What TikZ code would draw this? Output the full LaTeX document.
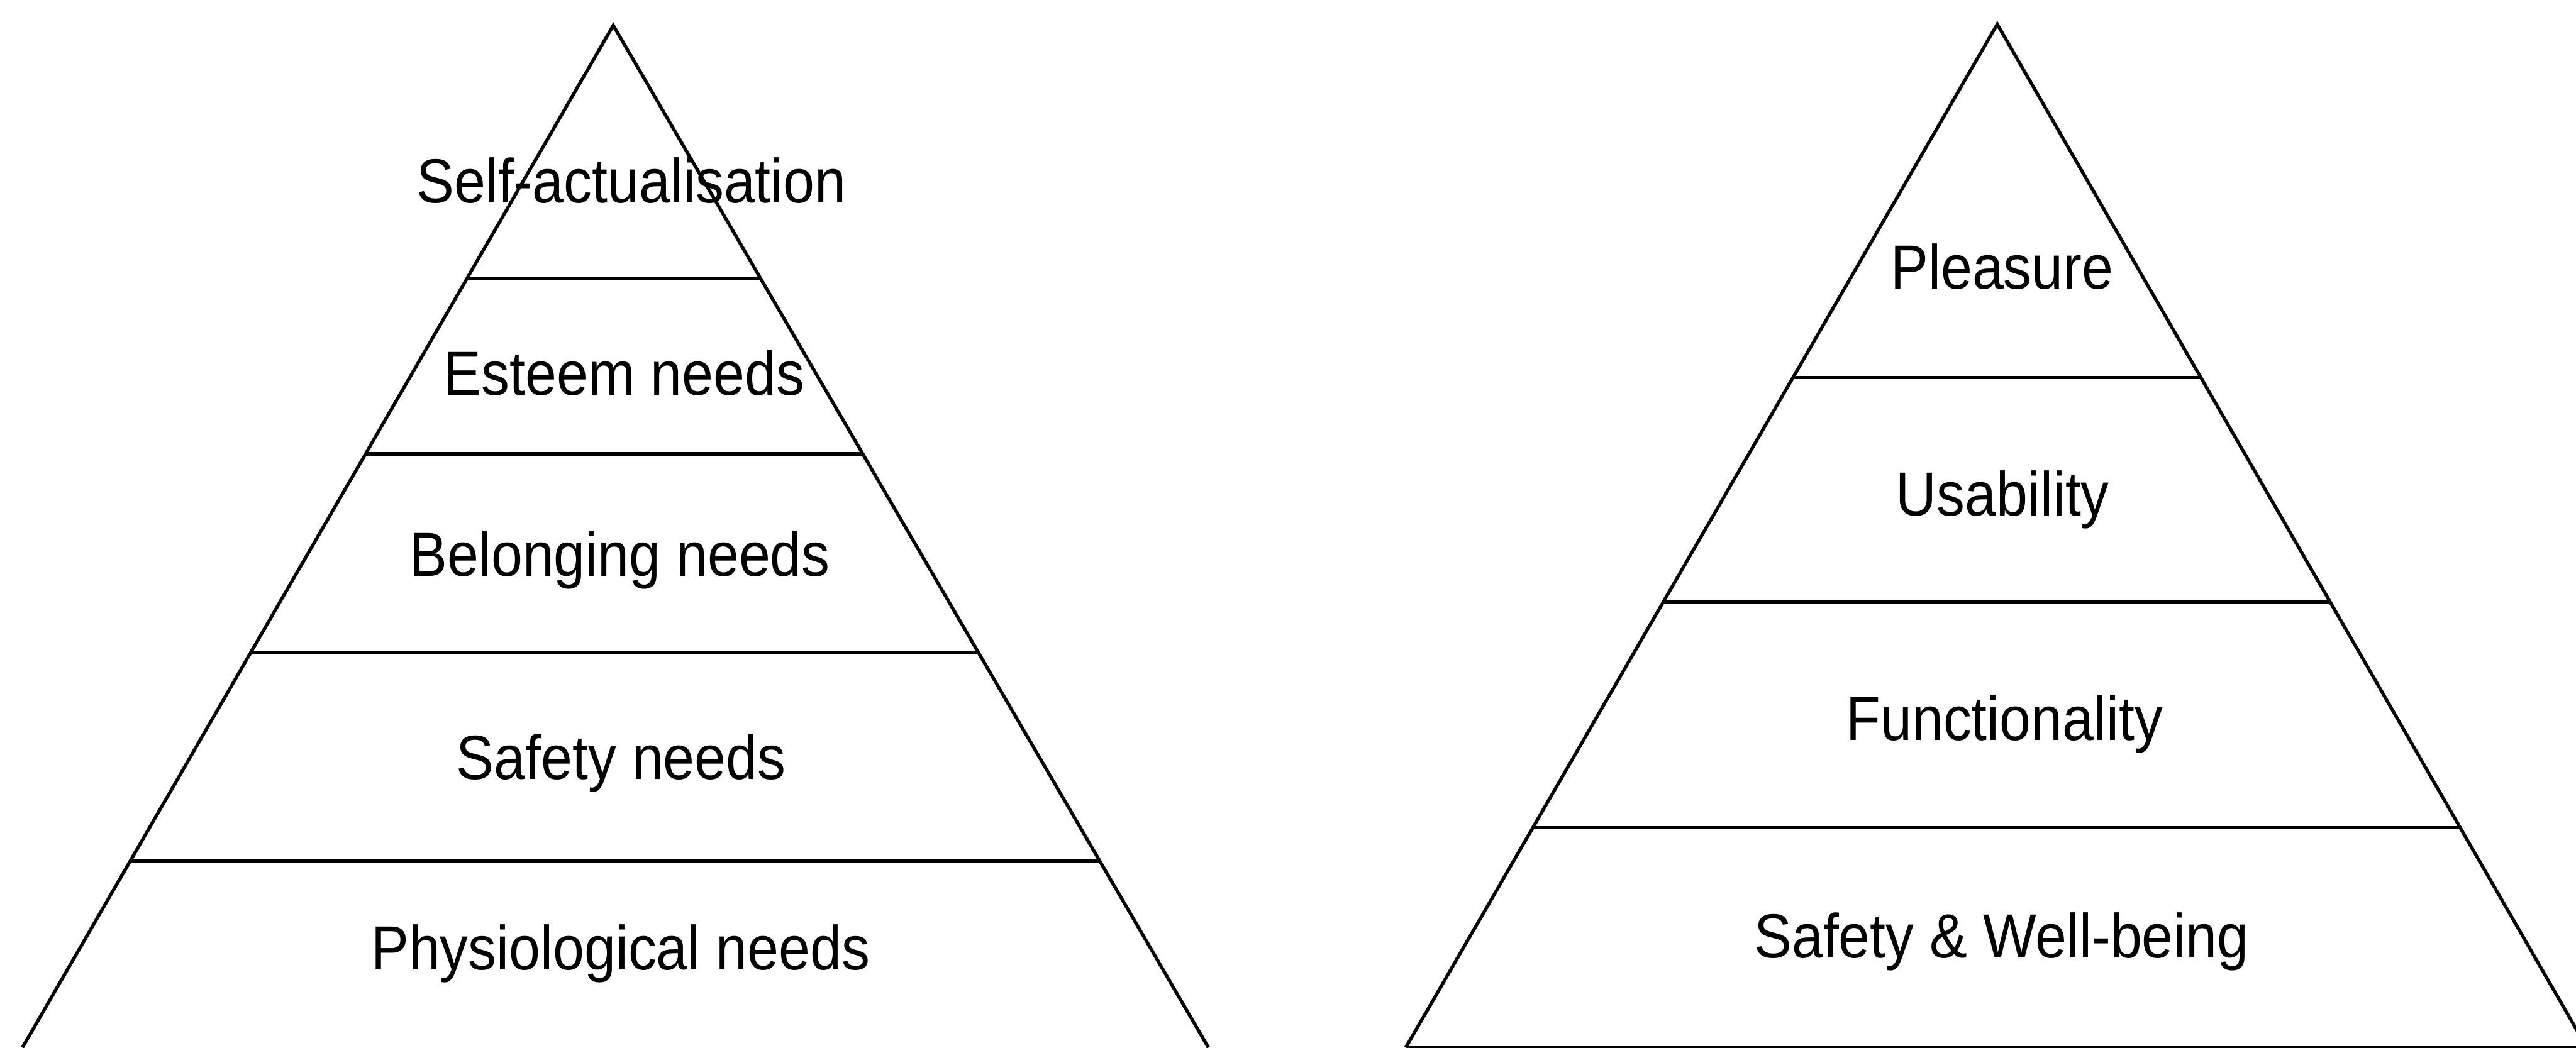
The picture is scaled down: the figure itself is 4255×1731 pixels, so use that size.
\documentclass[tikz,border=0pt]{standalone}
\usepackage{fontspec}
\setmainfont[FakeStretch=0.905]{Liberation Sans}
\usetikzlibrary{calc}
\begin{document}
\begin{tikzpicture}[x=0.1pt,y=-0.1pt,
  edge/.style={line width=0.55pt, line join=miter, black},
  level/.style={line width=0.55pt, black},
  lbl/.style={anchor=base, inner sep=0pt, font=\fontsize{10.3pt}{12pt}\selectfont}]
\useasboundingbox (0,0) rectangle (4255,1731);
\clip (0,0) rectangle (4255,1731);
% left pyramid
\coordinate (LA) at (1013,42);
\coordinate (LL) at (37,1731);
\coordinate (LR) at (1996,1731);
\draw[edge] (LL) -- (LA) -- (LR);
\foreach \t [count=\i] in {0.2481,0.4192,0.6140,0.8176}{
  \coordinate (l\i a) at ($(LA)!\t!(LL)$);
  \coordinate (l\i b) at ($(LA)!\t!(LR)$);
  \draw[level] (l\i a) -- (l\i b);
}
% right pyramid
\coordinate (RA) at (3299,40);
\coordinate (RL) at (2322,1731);
\coordinate (RR) at (4273,1731);
\draw[edge] (RL) -- (RA) -- (RR);
\draw[level] (RL) -- (RR);
\foreach \t [count=\i] in {0.3454,0.5648,0.7853}{
  \coordinate (r\i a) at ($(RA)!\t!(RL)$);
  \coordinate (r\i b) at ($(RA)!\t!(RR)$);
  \draw[level] (r\i a) -- (r\i b);
}
% labels
\node[lbl] (selfact) at (1043,335) {Self-actualisation};
\node[lbl] (esteem) at (1031,653) {Esteem needs};
\node[lbl] (belong) at (1024,952) {Belonging needs};
\node[lbl] (safety) at (1026,1288) {Safety needs};
\node[lbl] (physio) at (1025,1602) {Physiological needs};
\node[lbl] (pleasure) at (3307,477) {Pleasure};
\node[lbl] (usab) at (3308,852) {Usability};
\node[lbl] (func) at (3311,1223) {Functionality};
\node[lbl] (safewell) at (3306,1583) {Safety \& Well-being};
\end{tikzpicture}
\end{document}
